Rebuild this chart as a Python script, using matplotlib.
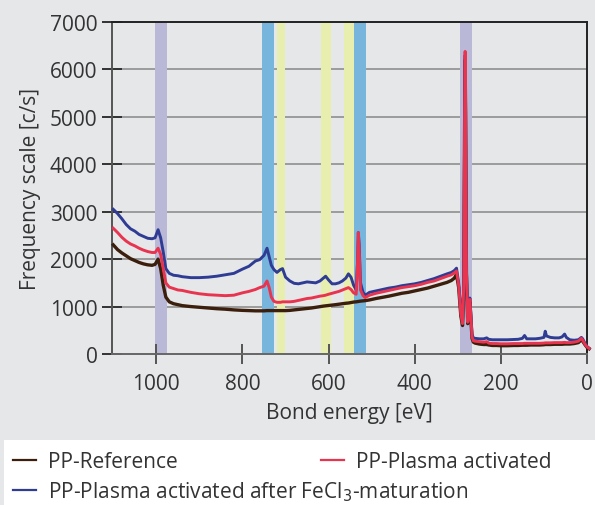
import matplotlib
matplotlib.use("Agg")
import matplotlib.pyplot as plt
from matplotlib.patches import Rectangle
from matplotlib.lines import Line2D

plt.rcParams['font.family'] = ['Open Sans', 'DejaVu Sans']

# binding energy grid [eV]
energy = [1100, 1090, 1080, 1070, 1060, 1050, 1040, 1030, 1020, 1010,
          1003, 996, 990, 984, 978, 970, 960, 950, 940, 920,
          900, 880, 860, 840, 820, 800, 785, 770, 760, 750,
          743, 738, 733, 727, 720, 712, 707, 700, 690, 680,
          670, 660, 650, 640, 630, 620, 612, 607, 600, 592,
          584, 576, 568, 560, 554, 548, 542, 536, 533, 531,
          529, 526, 520, 515, 505, 490, 475, 460, 445, 430,
          415, 400, 385, 370, 355, 340, 325, 315, 308, 303,
          298, 293, 289, 286, 284, 283, 282, 280, 277, 274,
          272, 270, 267, 264, 260, 250, 240, 233, 228, 220,
          210, 200, 185, 170, 160, 150, 145, 140, 130, 120,
          110, 100, 97, 94, 85, 75, 65, 58, 52, 48,
          40, 30, 20, 13, 10, 5, 0, -5]

pp_reference = [2300, 2200, 2130, 2070, 2010, 1970, 1930, 1900, 1880, 1870,
                1890, 2000, 1800, 1450, 1200, 1100, 1060, 1040, 1020, 1000,
                985, 970, 955, 945, 930, 920, 915, 910, 910, 910,
                915, 915, 915, 915, 915, 915, 915, 915, 920, 930,
                940, 950, 960, 970, 985, 1000, 1010, 1015, 1020, 1030,
                1040, 1050, 1060, 1070, 1075, 1085, 1095, 1100, 1105, 1110,
                1110, 1115, 1120, 1125, 1140, 1170, 1195, 1220, 1250, 1280,
                1300, 1330, 1360, 1390, 1430, 1470, 1510, 1550, 1600, 1680,
                1400, 800, 600, 1400, 5100, 6200, 5100, 1700, 640, 820,
                1100, 800, 330, 250, 230, 210, 200, 200, 190, 180,
                180, 175, 175, 180, 180, 185, 185, 185, 190, 190,
                190, 195, 200, 200, 200, 205, 205, 205, 210, 210,
                210, 220, 240, 300, 270, 200, 140, 110]

pp_plasma = [2650, 2560, 2460, 2380, 2320, 2280, 2230, 2190, 2160, 2140,
             2140, 2230, 2100, 1800, 1500, 1410, 1380, 1350, 1340, 1300,
             1270, 1250, 1240, 1230, 1240, 1290, 1320, 1360, 1400, 1430,
             1540, 1400, 1200, 1110, 1090, 1090, 1100, 1100, 1100, 1110,
             1130, 1150, 1170, 1180, 1200, 1220, 1230, 1240, 1260, 1280,
             1300, 1320, 1350, 1380, 1400, 1360, 1290, 1260, 1900, 2560,
             2200, 1350, 1230, 1190, 1240, 1280, 1310, 1340, 1370, 1400,
             1420, 1440, 1470, 1510, 1540, 1590, 1640, 1670, 1710, 1750,
             1450, 850, 640, 1500, 5300, 6380, 5300, 1800, 670, 850,
             1150, 850, 360, 280, 270, 260, 250, 260, 230, 220,
             220, 215, 215, 220, 220, 220, 225, 225, 225, 225,
             225, 230, 235, 235, 235, 240, 240, 240, 245, 240,
             240, 250, 270, 330, 290, 210, 150, 120]

pp_fecl3 = [3050, 2960, 2850, 2730, 2640, 2590, 2520, 2480, 2440, 2430,
            2450, 2620, 2450, 2150, 1800, 1700, 1660, 1650, 1630, 1610,
            1610, 1620, 1640, 1670, 1700, 1790, 1850, 1960, 1990, 2080,
            2230, 2050, 1870, 1780, 1720, 1780, 1800, 1620, 1540, 1490,
            1480, 1500, 1520, 1510, 1500, 1540, 1600, 1640, 1560, 1480,
            1480, 1500, 1540, 1600, 1690, 1620, 1450, 1350, 1900, 2560,
            2300, 1500, 1300, 1240, 1300, 1330, 1360, 1390, 1410, 1440,
            1460, 1480, 1510, 1550, 1590, 1640, 1690, 1720, 1760, 1810,
            1500, 900, 680, 1500, 5200, 6300, 5200, 1800, 700, 900,
            1180, 900, 420, 340, 330, 320, 320, 340, 310, 300,
            300, 300, 300, 305, 310, 330, 390, 320, 320, 320,
            330, 350, 480, 380, 350, 340, 340, 360, 420, 350,
            300, 290, 300, 350, 320, 230, 160, 120]

# highlighted binding energy bands (lo, hi, colour)
bands = [(975, 1003, '#b9b8d7'), (727, 755, '#78b5dc'), (701, 720, '#e8efae'),
         (594, 617, '#e8efae'), (541, 564, '#e8efae'), (513, 541, '#78b5dc'),
         (267, 295, '#b9b8d7')]

c_ref = '#3b1e0c'
c_pla = '#e8344f'
c_fe = '#2f3c93'
bg = '#e6e7e9'
txt = '#333333'
fs = 15

fig = plt.figure(figsize=(5.95, 5.06), dpi=100, facecolor=bg)
ax = fig.add_axes([112 / 595, 1 - 355 / 506, 475 / 595, 332 / 506])
ax.set_facecolor(bg)

for lo, hi, col in bands:
    ax.axvspan(lo, hi, color=col, lw=0, zorder=1)

for y in range(1000, 7000, 1000):
    ax.axhline(y, color='#9b9b9b', lw=1.4, zorder=0.5)

ax.plot(energy, pp_reference, color=c_ref, lw=2.4, zorder=3, clip_on=False)
ax.plot(energy, pp_fecl3, color=c_fe, lw=2.1, zorder=4, clip_on=False)
ax.plot(energy, pp_plasma, color=c_pla, lw=2.1, zorder=5, clip_on=False)

ax.set_xlim(1103, 0)
ax.set_ylim(0, 7000)
ax.set_xticks([1000, 800, 600, 400, 200, 0])
ax.set_yticks(range(0, 7001, 1000))
ax.tick_params(axis='both', direction='inout', length=15, width=1.4,
               labelsize=fs, labelcolor=txt)
ax.tick_params(axis='y', color=txt, pad=3)
ax.tick_params(axis='x', color='#555555', pad=6)

ax.spines['left'].set_color('#555555')
ax.spines['bottom'].set_color('#666666')
ax.spines['top'].set_color('#222222')
ax.spines['right'].set_color('#222222')
for s in ax.spines.values():
    s.set_linewidth(1.4)

ax.set_xlabel('Bond energy [eV]', fontsize=fs, color=txt, labelpad=6)
ax.set_ylabel('Frequency scale [c/s]', fontsize=fs, color=txt, labelpad=6)

# white legend panel
fig.patches.append(Rectangle((4 / 595, 0), 1, 65 / 506, transform=fig.transFigure,
                             facecolor='white', edgecolor='none', zorder=0))

h_ref = Line2D([], [], color=c_ref, lw=1.6)
h_pla = Line2D([], [], color=c_pla, lw=1.6)
h_fe = Line2D([], [], color=c_fe, lw=1.6)

fig.legend([h_ref, h_fe], ['PP-Reference', 'PP-Plasma activated after FeCl$_3$-maturation'],
           loc='upper left', bbox_to_anchor=(7 / 595, 60 / 506), frameon=False,
           fontsize=fs, handlelength=1.1, handletextpad=0.55, labelspacing=0.35,
           borderaxespad=0, borderpad=0.3, labelcolor=txt)
fig.legend([h_pla], ['PP-Plasma activated'],
           loc='upper left', bbox_to_anchor=(315 / 595, 60 / 506), frameon=False,
           fontsize=fs, handlelength=1.1, handletextpad=0.55,
           borderaxespad=0, borderpad=0.3, labelcolor=txt)

fig.savefig('out.png', dpi=100, facecolor=bg)
